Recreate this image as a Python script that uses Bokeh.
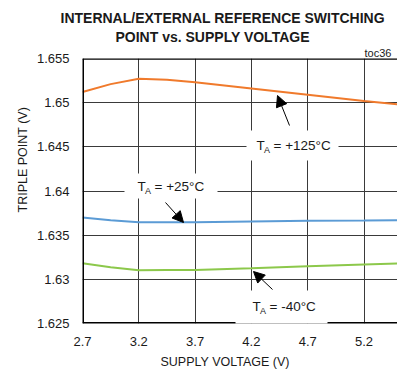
from bokeh.plotting import figure
from bokeh.models import (Label, Span, BoxAnnotation, Arrow, NormalHead,
                          FixedTicker, Range1d, Title)
from bokeh.embed import file_html
from bokeh.resources import INLINE

# ---- data ----
supply_v = [2.7, 2.95, 3.2, 3.45, 3.7, 4.2, 4.7, 5.2, 5.5]
trip_125 = [1.6512, 1.6521, 1.6527, 1.6526, 1.6523, 1.6516, 1.6509, 1.6502, 1.6498]
trip_25 = [1.6370, 1.6367, 1.63647, 1.63647, 1.63647, 1.63655, 1.63663, 1.63666, 1.6367]
trip_m40 = [1.63182, 1.63137, 1.63103, 1.63105, 1.63107, 1.63126, 1.63148, 1.63168, 1.6318]
x_ticks = [2.7, 3.2, 3.7, 4.2, 4.7, 5.2]
y_ticks = [1.625, 1.63, 1.635, 1.64, 1.645, 1.65, 1.655]
y_tick_labels = ["1.625", "1.63", "1.635", "1.64", "1.645", "1.65", "1.655"]
x_tick_labels = ["2.7", "3.2", "3.7", "4.2", "4.7", "5.2"]

FONT = "Liberation Sans"
TEXT_C = "#1a1a1a"
GRID_C = "#3a3a3a"

X0, Y1 = 2.7, 1.655
XS = 112.6          # px per volt
YS = 265 / 0.03     # px per volt (y)
W, H = 397, 374
L, T, B = 82, 58, 51

def px(xp):
    return X0 + (xp - L) / XS

def py(yp):
    return Y1 - (yp - T) / YS

p = figure(width=W, height=H, output_backend="svg", toolbar_location=None,
           x_range=Range1d(2.7, 2.7 + (W - L) / XS), y_range=Range1d(1.625, 1.655),
           min_border_left=L, min_border_right=0, min_border_top=T, min_border_bottom=B)
p.outline_line_color = None
p.background_fill_color = "white"
p.title.visible = False

# titles (first added sits nearest the frame)
p.add_layout(Title(text="toc36", align="left", offset=282, text_font=FONT, text_font_size="11px",
                   text_font_style="normal", text_color=TEXT_C, standoff=0), "above")
p.add_layout(Title(text="POINT vs.  SUPPLY VOLTAGE", align="left", offset=33,
                   text_font=FONT, text_font_size="14px", text_font_style="bold",
                   text_color=TEXT_C, standoff=0), "above")
p.add_layout(Title(text="INTERNAL/EXTERNAL REFERENCE SWITCHING", align="left", offset=-22,
                   text_font=FONT, text_font_size="14px", text_font_style="bold",
                   text_color=TEXT_C, standoff=2), "above")

for ax in (p.xaxis[0], p.yaxis[0]):
    ax.axis_line_color = None
    ax.major_tick_line_color = None
    ax.minor_tick_line_color = None
    ax.major_tick_in = 0
    ax.major_tick_out = 0
    ax.major_label_text_font = FONT
    ax.major_label_text_font_size = "13px"
    ax.major_label_text_color = TEXT_C

p.xaxis.ticker = FixedTicker(ticks=x_ticks)
p.yaxis.ticker = FixedTicker(ticks=y_ticks)
p.xaxis.major_label_overrides = {t: s for t, s in zip(x_ticks, x_tick_labels)}
p.yaxis.major_label_overrides = {t: s for t, s in zip(y_ticks, y_tick_labels)}
p.xaxis.major_label_standoff = 13
p.yaxis.major_label_standoff = 13

# axis titles as Title panels so they can be offset like the reference
p.add_layout(Title(text="SUPPLY VOLTAGE (V)", align="left", offset=78, text_font=FONT,
                   text_font_size="12.5px", text_font_style="normal", text_color=TEXT_C,
                   standoff=9), "below")
p.add_layout(Title(text="TRIPLE POINT (V)", align="left", offset=111, text_font=FONT,
                   text_font_size="12.5px", text_font_style="normal", text_color=TEXT_C,
                   standoff=7), "left")

p.xgrid.grid_line_color = GRID_C
p.ygrid.grid_line_color = GRID_C
p.xgrid.grid_line_width = 1
p.ygrid.grid_line_width = 1

p.line(supply_v, trip_125, line_color="#F07A2C", line_width=2)
p.line(supply_v, trip_25, line_color="#5B9BD5", line_width=2)
p.line(supply_v, trip_m40, line_color="#8CC84B", line_width=2)

# frame borders (left, top, bottom)
p.add_layout(Span(location=2.7, dimension="height", line_color="black", line_width=3))
p.add_layout(Span(location=1.655, dimension="width", line_color="black", line_width=2.5))
p.add_layout(Span(location=1.625, dimension="width", line_color="black", line_width=3))

# label boxes
p.add_layout(BoxAnnotation(left=px(246), right=px(338), top=py(130), bottom=py(160),
                           fill_color="white", fill_alpha=1, line_color=None))
p.add_layout(BoxAnnotation(left=px(124), right=px(217), top=py(173), bottom=py(198),
                           fill_color="white", fill_alpha=1, line_color=None))
p.add_layout(BoxAnnotation(left=px(235), right=px(327), top=py(290), bottom=py(326),
                           fill_color="white", fill_alpha=1, line_color=None))

def arrow(x1, y1, x2, y2):
    p.add_layout(Arrow(end=NormalHead(size=11, fill_color="black", line_color="black"),
                       x_start=px(x1), y_start=py(y1), x_end=px(x2), y_end=py(y2),
                       line_color="black", line_width=1))

arrow(289, 125, 277, 95)
arrow(165, 202, 183, 222)
arrow(272, 289, 253, 271)

def ta_label(xl, yc, rest):
    p.add_layout(Label(x=px(xl), y=py(yc), text="T", text_font=FONT, text_font_size="13.5px",
                       text_color=TEXT_C, text_baseline="middle", text_align="left"))
    p.add_layout(Label(x=px(xl + 7.5), y=py(yc + 4), text="A", text_font=FONT, text_font_size="9px",
                       text_color=TEXT_C, text_baseline="middle", text_align="left"))
    p.add_layout(Label(x=px(xl + 17), y=py(yc), text=rest, text_font=FONT, text_font_size="13.5px",
                       text_color=TEXT_C, text_baseline="middle", text_align="left"))

ta_label(256, 145, "= +125°C")
ta_label(137, 186, "= +25°C")
ta_label(252, 306, "= -40°C")

open("out.html", "w").write(file_html(p, INLINE))
